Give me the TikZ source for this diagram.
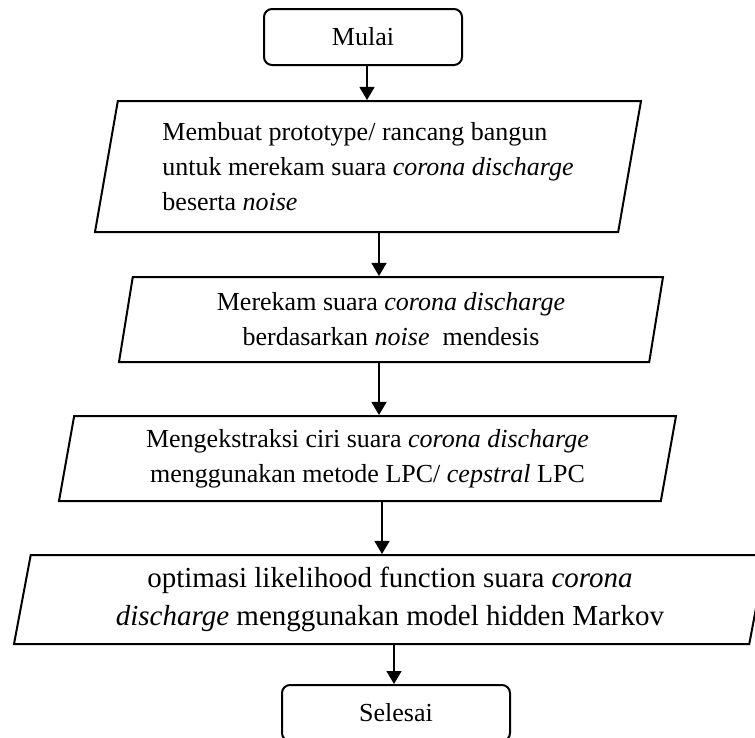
\documentclass[tikz,border=0pt]{standalone}
\usepackage{fontspec}
\setmainfont{Liberation Serif}
\usetikzlibrary{arrows.meta,shapes.geometric}

\begin{document}
\begin{tikzpicture}[x=1pt,y=-1pt,
        term/.style={draw,line width=2pt,rounded corners=8pt,minimum height=56pt,inner sep=0pt,font=\fontsize{26}{35}\selectfont},
        io/.style={draw,line width=2pt,trapezium,trapezium left angle=75.5,trapezium right angle=104.5,trapezium stretches body=true,inner sep=0pt,font=\fontsize{26}{35}\selectfont},
        arr/.style={line width=1.2pt,-{Triangle[width=15pt,length=13pt]}}]
                \clip (0,0) rectangle (755,737);
                \node[term,minimum width=198pt] (mulai) at (363,37) {Mulai};
                \node[io,minimum width=546pt,minimum height=131pt,align=left] (proto) at (368,166.5) {Membuat prototype/ rancang bangun\\ untuk merekam suara \textit{corona discharge}\\ beserta \textit{noise}};
                \node[io,minimum width=544pt,minimum height=85pt,align=center] (rekam) at (391,319.5) {Merekam suara \textit{corona discharge}\\ berdasarkan \textit{noise}~ mendesis};
                \node[io,minimum width=617pt,minimum height=85pt,align=center] (ekstrak) at (367.5,458.5) {Mengekstraksi ciri suara \textit{corona discharge}\\ menggunakan metode LPC/ \textit{cepstral} LPC};
                \node[io,minimum width=752pt,minimum height=89pt,align=center,font=\fontsize{29}{38}\selectfont] (optim) at (390,599.5) {optimasi likelihood function suara \textit{corona}\\ \textit{discharge} menggunakan model hidden Markov};
                \node[term,minimum width=228pt] (selesai) at (396,713) {Selesai};

                \draw[arr] (mulai.south -| 367,0) to (proto.north -| 367,0); \draw[arr] (proto.south -| 379,0) to (rekam.north -| 379,0); \draw[arr] (rekam.south -| 379,0) to (ekstrak.north -| 379,0);
                \draw[arr] (ekstrak.south -| 382,0) to (optim.north -| 382,0); \draw[arr] (optim.south -| 394,0) to (selesai.north -| 394,0);
            \end{tikzpicture}
\end{document}
